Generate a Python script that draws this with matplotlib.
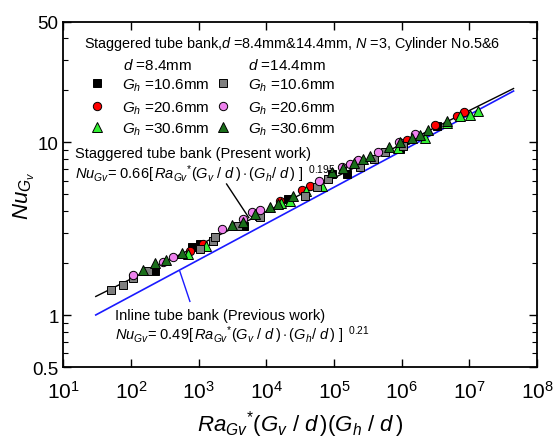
import numpy as np
import matplotlib
matplotlib.use("Agg")
import matplotlib.pyplot as plt

plt.rcParams['font.family'] = ['Liberation Sans', 'DejaVu Sans']
plt.rcParams['mathtext.fontset'] = 'custom'
plt.rcParams['mathtext.rm'] = 'Liberation Sans'
plt.rcParams['mathtext.it'] = 'Liberation Sans:italic'
plt.rcParams['mathtext.bf'] = 'Liberation Sans:bold'

# d=8.4mm, Gh=10.6mm (black squares)
x_84_106 = [225, 791, 1038, 1600, 4700, 7727, 20700, 92500, 154000, 934000, 3.29e6]
y_84_106 = [1.79, 2.49, 2.59, 2.68, 3.29, 3.75, 4.71, 6.56, 6.56, 9.14, 12.4]
# d=8.4mm, Gh=20.6mm (red circles)
x_84_206 = [739, 1150, 15780, 33340, 43750, 1.19e6, 3.07e6, 6.49e6, 8.24e6]
y_84_206 = [2.36, 2.59, 4.58, 5.30, 5.59, 10.3, 12.57, 14.16, 14.93]
# d=8.4mm, Gh=30.6mm (light green triangles)
x_84_306 = [700, 1274, 16500, 22000, 39000, 65800, 873000, 2.19e6, 4.62e6, 7.19e6, 1.01e7, 1.33e7]
y_84_306 = [2.27, 2.52, 4.45, 4.6, 5.2, 5.59, 9.26, 10.57, 12.9, 14.16, 14.35, 15.13]
# d=14.4mm, Gh=10.6mm (gray squares)
x_144_106 = [50, 76, 106, 177, 1038, 1616, 1730, 3784, 8000, 36900, 55500, 80700,
             239800, 386000, 561000, 1.035e6]
y_144_106 = [1.39, 1.50, 1.63, 1.79, 2.42, 2.70, 2.84, 3.29, 3.71, 4.90, 5.52, 6.14,
             7.19, 8.0, 8.78, 9.51]
# d=14.4mm, Gh=20.6mm (pink circles)
x_144_206 = [106, 295, 414, 2194, 4480, 6081, 8000, 59400, 130000, 170600, 223900,
             442500, 903000, 1.556e6]
y_144_206 = [1.70, 2.04, 2.18, 3.16, 3.61, 3.96, 4.07, 5.98, 7.19, 7.49, 7.90,
             8.78, 10.03, 11.15]
# d=14.4mm, Gh=30.6mm (dark green triangles)
x_144_306 = [149, 225, 327, 562, 3081, 4480, 6740, 11220, 14730, 24550, 92500, 134400,
             195400, 265500, 336500, 643000, 934000, 1.405e6, 1.845e6, 2.42e6, 4.62e6]
y_144_306 = [1.83, 2.01, 2.07, 2.30, 3.33, 3.47, 3.86, 4.23, 4.40, 4.90, 6.73, 7.10,
             7.59, 8.0, 8.33, 9.38, 10.03, 10.57, 11.0, 11.76, 13.25]

# correlations
c_stag, n_stag = 0.66, 0.195
c_inl, n_inl = 0.49, 0.21
x_fit_min, x_fit_max = 30, 4.5e7

# leader lines (x, y pairs)
lead_stag_x = [2577, 5495]
lead_stag_y = [5.74, 3.66]
lead_inl_x = [526, 739]
lead_inl_y = [1.786, 1.20]

fig = plt.figure(figsize=(5.54, 4.39), dpi=100)
ax = fig.add_axes([0.1146, 0.1617, 0.8547, 0.7866])

xf = np.logspace(np.log10(x_fit_min), np.log10(x_fit_max), 200)
ax.plot(xf, c_stag * xf ** n_stag, color='black', lw=1.0, zorder=2)
ax.plot(xf, c_inl * xf ** n_inl, color='#1a1aff', lw=1.2, zorder=2)
ax.plot(lead_stag_x, lead_stag_y, color='black', lw=1.0)
ax.plot(lead_inl_x, lead_inl_y, color='#1a1aff', lw=1.0)

series = [
    (x_84_106, y_84_106, 's', 'black', 5.5),
    (x_84_206, y_84_206, 'o', 'red', 6),
    (x_84_306, y_84_306, '^', '#33ee33', 7),
    (x_144_106, y_144_106, 's', '#7f7f7f', 5.5),
    (x_144_206, y_144_206, 'o', '#ee82ee', 6),
    (x_144_306, y_144_306, '^', '#1a6e1a', 7),
]
for xs, ys, m, c, ms in series:
    ax.plot(xs, ys, ls='none', marker=m, ms=ms, mfc=c, mec='black', mew=0.7, zorder=3)

ax.set_xscale('log')
ax.set_yscale('log')
ax.set_xlim(10, 1e8)
ax.set_ylim(0.5, 50)
ax.set_xticks([10 ** k for k in range(1, 9)])
ax.set_yticks([0.5, 1, 10, 50])
ax.set_yticklabels(['0.5', '1', '10', '50'])
ax.tick_params(which='both', direction='in', top=True, right=True)
ax.tick_params(which='major', length=6, width=1.0)
ax.tick_params(which='minor', length=3.5, width=0.8)
ax.tick_params(axis='x', labelsize=15, pad=9)
ax.tick_params(axis='y', labelsize=13.5)
for s in ax.spines.values():
    s.set_linewidth(1.3)

ax.set_xlabel(r'$Ra_{Gv}{}^{*}(G_v\ /\ d\,)(G_h\ /\ d\,)$', fontsize=16, labelpad=5)
ax.set_ylabel(r'$Nu_{G_v}$', fontsize=16, labelpad=-3)

tr = ax.transAxes
ax.text(0.043, 0.937, r'Staggered tube bank,$d$ =8.4mm&14.4mm, $N$ =3, Cylinder No.5&6',
        transform=tr, fontsize=10.4, va='center')
ax.text(0.126, 0.876, r'$d$ =8.4mm', transform=tr, fontsize=11, va='center')
ax.text(0.39, 0.876, r'$d$ =14.4mm', transform=tr, fontsize=11, va='center')

labels = [r'$G_h$ =10.6mm', r'$G_h$ =20.6mm', r'$G_h$ =30.6mm']
row_y = [0.822, 0.757, 0.694]
for i, (xs, ys, m, c, ms) in enumerate(series):
    col, row = divmod(i, 3)
    mx = [0.0707, 0.3368][col]
    tx = [0.1235, 0.3897][col]
    ax.plot([mx], [row_y[row]], transform=tr, marker=m, ms=ms, mfc=c, mec='black',
            mew=0.7, ls='none', clip_on=False)
    ax.text(tx, row_y[row] - 0.016, labels[row], transform=tr, fontsize=11, va='baseline')

ax.text(0.0243, 0.619, 'Staggered tube bank (Present work)', transform=tr,
        fontsize=10.5, va='center')
ax.text(0.0243, 0.562,
        r'$Nu_{Gv}$= 0.66[$\,Ra_{Gv}{}^{*}(G_v\ /\ d\,)\cdot(G_h/\ d\,)$ ]$^{\ \ 0.195}$',
        transform=tr, fontsize=10.5, va='center')
ax.text(0.109, 0.150, 'Inline tube bank (Previous work)', transform=tr,
        fontsize=10.5, va='center')
ax.text(0.109, 0.096,
        r'$Nu_{Gv}$= 0.49[$\,Ra_{Gv}{}^{*}(G_v\ /\ d\,)\cdot(G_h/\ d\,)$ ]$^{\ \ 0.21}$',
        transform=tr, fontsize=10.5, va='center')

fig.savefig('out.png', dpi=100)
